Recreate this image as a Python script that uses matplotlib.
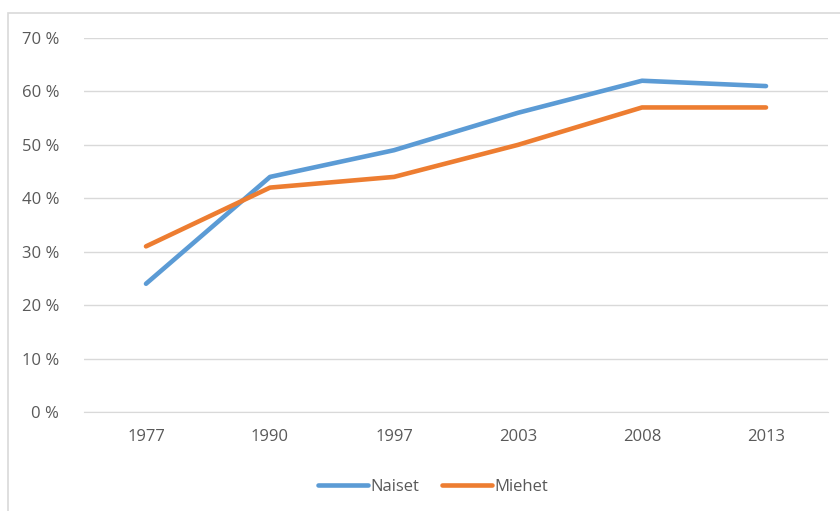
import matplotlib
matplotlib.use("Agg")
import matplotlib.pyplot as plt
from matplotlib.patches import Rectangle
from matplotlib.ticker import FuncFormatter

years = ["1977", "1990", "1997", "2003", "2008", "2013"]
naiset = [24, 44, 49, 56, 62, 61]
miehet = [31, 42, 44, 50, 57, 57]
y_ticks = [0, 10, 20, 30, 40, 50, 60, 70]

plt.rcParams["font.family"] = ["Open Sans", "DejaVu Sans"]

W, H = 840, 511
fig = plt.figure(figsize=(W / 100, H / 100), dpi=100)
fig.patch.set_facecolor("white")

# outer chart frame
fig.patches.append(Rectangle((8 / W, -0.05), 1.2, 1 - 13 / H + 0.05,
                             transform=fig.transFigure, fill=False,
                             edgecolor="#D9D9D9", linewidth=1.2))

ax = fig.add_axes([84 / W, 1 - 412 / H, (828 - 84) / W, (412 - 38) / H])
x = list(range(len(years)))
ax.plot(x, naiset, color="#5B9BD5", linewidth=3.3, solid_capstyle="round",
        solid_joinstyle="round", label="Naiset")
ax.plot(x, miehet, color="#ED7D31", linewidth=3.3, solid_capstyle="round",
        solid_joinstyle="round", label="Miehet")

ax.set_xlim(-0.5, len(years) - 0.5)
ax.set_ylim(0, 70)
ax.set_yticks(y_ticks)
ax.yaxis.set_major_formatter(FuncFormatter(lambda v, p: f"{int(v)} %"))
ax.set_xticks(x)
ax.set_xticklabels(years)
ax.grid(axis="y", color="#D9D9D9", linewidth=1)
ax.set_axisbelow(True)
for s in ["top", "right", "left"]:
    ax.spines[s].set_visible(False)
ax.spines["bottom"].set_color("#D9D9D9")
ax.tick_params(axis="both", length=0, labelsize=12, colors="#595959")
ax.tick_params(axis="y", pad=18)
ax.tick_params(axis="x", pad=12)

leg = fig.legend(loc="center", bbox_to_anchor=(433 / W, 1 - 487 / H), ncol=2,
                 frameon=False, fontsize=12, handlelength=3.0,
                 handletextpad=0.1, columnspacing=1.4)
for t in leg.get_texts():
    t.set_color("#595959")

fig.savefig("out.png", dpi=100)
